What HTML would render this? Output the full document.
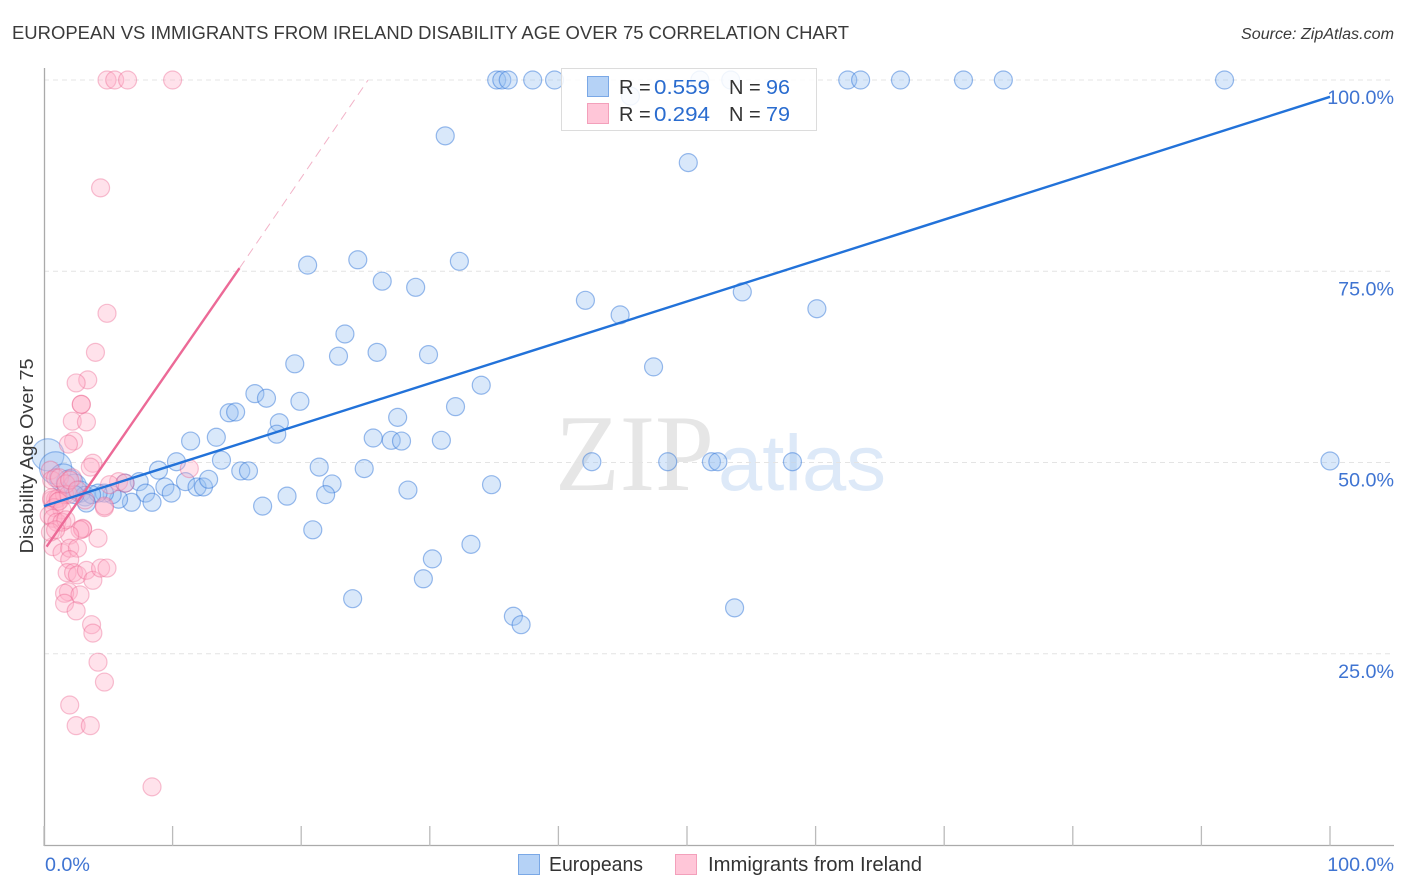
<!DOCTYPE html>
<html lang="en">
<head>
<meta charset="utf-8">
<title>European vs Immigrants from Ireland Disability Age Over 75 Correlation Chart</title>
<style>
html,body{margin:0;padding:0;background:#fff;}
svg{display:block;font-family:"Liberation Sans",sans-serif;}
</style>
</head>
<body>
<svg id="chart" width="1406" height="892" viewBox="0 0 1406 892" xmlns="http://www.w3.org/2000/svg">
  <text x="12" y="39" font-size="18.5" fill="#3a3a3a" textLength="837" lengthAdjust="spacingAndGlyphs">EUROPEAN VS IMMIGRANTS FROM IRELAND DISABILITY AGE OVER 75 CORRELATION CHART</text>
  <text x="1241" y="39" font-size="15.5" font-style="italic" fill="#3a3a3a" textLength="153" lengthAdjust="spacingAndGlyphs">Source: ZipAtlas.com</text>
  <g>
    <text x="555" y="490" font-family="'Liberation Serif',serif" font-size="109" fill="#e6e6e6" textLength="159" lengthAdjust="spacingAndGlyphs">ZIP</text>
    <text x="718" y="490" font-size="79" fill="#dde9f8" textLength="168" lengthAdjust="spacingAndGlyphs">atlas</text>
  </g>
  <g id="grid"></g>
  <g id="axes"></g>
  <g id="points-euro"></g>
  <g id="points-irish"></g>
  <g id="trends"></g>
  <g id="tick-labels"></g>
  <text transform="translate(33,456) rotate(-90)" text-anchor="middle" font-size="18" fill="#3a3a3a" textLength="195" lengthAdjust="spacingAndGlyphs">Disability Age Over 75</text>
  <g>
    <rect x="561.5" y="68.5" width="255" height="62" fill="#fff" fill-opacity="0.86" stroke="#dcdcdc"/>
    <rect x="587.5" y="76.5" width="21" height="20" fill="#b5d2f6" stroke="#7aa8e6"/>
    <rect x="587.5" y="103.5" width="21" height="20" fill="#ffc6d8" stroke="#f3a0bb"/>
    <text x="619" y="94" font-size="20" fill="#333">R =</text>
    <text x="654" y="94" font-size="20" fill="#2a6ccf" textLength="56" lengthAdjust="spacingAndGlyphs">0.559</text>
    <text x="729" y="94" font-size="20" fill="#333">N =</text>
    <text x="766" y="94" font-size="20" fill="#2a6ccf" textLength="24" lengthAdjust="spacingAndGlyphs">96</text>
    <text x="619" y="121" font-size="20" fill="#333">R =</text>
    <text x="654" y="121" font-size="20" fill="#2a6ccf" textLength="56" lengthAdjust="spacingAndGlyphs">0.294</text>
    <text x="729" y="121" font-size="20" fill="#333">N =</text>
    <text x="766" y="121" font-size="20" fill="#2a6ccf" textLength="24" lengthAdjust="spacingAndGlyphs">79</text>
  </g>
  <g>
    <rect x="518.5" y="854.5" width="21" height="20" fill="#b5d2f6" stroke="#7aa8e6"/>
    <text x="549" y="871" font-size="20" fill="#333" textLength="94" lengthAdjust="spacingAndGlyphs">Europeans</text>
    <rect x="675.5" y="854.5" width="21" height="20" fill="#ffc6d8" stroke="#f3a0bb"/>
    <text x="708" y="871" font-size="20" fill="#333" textLength="214" lengthAdjust="spacingAndGlyphs">Immigrants from Ireland</text>
  </g>
</svg>
<script>
const euroX = [35.2,35.6,36.1,38.0,39.7,51.0,53.4,62.5,63.5,66.6,71.5,74.6,91.8,45.6,31.2,50.1,20.5,24.4,32.3,26.3,28.9,42.1,54.3,44.8,60.1,23.4,22.9,25.9,29.9,19.5,47.4,34.0,16.4,17.3,19.9,32.0,14.4,14.9,27.5,18.3,18.1,13.4,11.4,25.6,27.0,27.8,30.9,42.6,48.5,51.9,52.4,58.2,100,13.8,10.3,8.9,15.3,15.9,21.4,24.9,7.4,6.3,11.0,9.4,11.9,12.4,12.8,22.4,21.9,18.9,28.3,34.8,7.9,9.9,17.0,8.4,6.8,5.8,5.3,4.7,4.2,3.7,3.3,2.4,20.9,33.2,30.2,29.5,24.0,36.5,37.1,53.7];
const euroY = [100,100,100,100,100,100,100,100,100,100,100,100,100,97.9,92.7,89.2,75.8,76.5,76.3,73.7,72.9,71.2,72.3,69.3,70.1,66.8,63.9,64.4,64.1,62.9,62.5,60.1,59.0,58.4,58.0,57.3,56.5,56.6,55.9,55.2,53.7,53.3,52.8,53.2,52.9,52.8,52.9,50.1,50.1,50.1,50.1,50.1,50.2,50.3,50.1,49.0,48.9,48.9,49.4,49.2,47.5,47.3,47.5,46.8,46.8,46.8,47.8,47.2,45.8,45.6,46.4,47.1,46.0,46.0,44.3,44.8,44.8,45.2,45.8,46.0,46.0,45.8,44.7,45.8,41.2,39.3,37.4,34.8,32.2,29.9,28.8,31.0];
const euroBigX = [0.3,0.9,1.5,2.0,2.4,2.8,3.2];
const euroBigY = [51.0,49.3,48.0,47.3,47.0,46.2,45.6];
const euroBigWeight = [3.2,3.2,2.4,2.2,1.6,1.4,1.2];
const irishX = [4.9,5.5,6.5,10.0,4.4,4.9,4.0,3.4,2.5,2.9,2.9,2.2,3.3,2.3,1.9,3.8,3.6,11.3,5.8,6.3,5.1,4.7,3.0,4.2,3.0,2.8,2.0,0.7,1.4,2.0,2.6,2.0,1.8,2.3,2.6,3.3,3.8,4.4,4.9,1.9,1.6,2.8,1.6,2.5,3.7,3.8,4.2,4.7,2.0,2.5,3.6,8.4,0.5,0.6,0.9,1.2,0.6,0.9,1.1,1.2,1.6,1.9,2.2,1.7,0.6,0.8,1.1,1.4,0.4,0.7,1.0,1.4,1.7,0.5,0.9,2.0,2.6,3.2,4.7];
const irishY = [100,100,100,100,85.9,69.5,64.4,60.8,60.4,57.6,57.6,55.4,55.3,52.8,52.4,49.9,49.4,49.2,47.5,47.3,47.1,44.1,41.4,40.1,41.3,41.2,40.5,39.0,38.2,38.8,38.8,37.3,35.6,35.6,35.3,35.9,34.6,36.2,36.2,33.1,32.9,32.7,31.6,30.6,28.8,27.7,23.9,21.3,18.3,15.6,15.6,7.6,49.0,47.7,48.0,48.0,45.1,45.2,45.3,45.0,45.8,45.8,48.0,47.2,45.4,44.1,44.9,43.8,43.1,42.7,42.2,42.2,42.5,40.9,41.2,47.7,46.4,45.1,44.3];
const euroTrendX = [0,100];
const euroTrendY = [44.3,97.8];
const irishSolidX = [0.2,15.2];
const irishSolidY = [39.0,75.4];
const irishDashX = [15.2,25.2];
const irishDashY = [75.4,100];
const gridValues = [25,50,75,100];
const yTickLabels = ["25.0%","50.0%","75.0%","100.0%"];
const xTicks = [0,10,20,30,40,50,60,70,80,90,100];

const NS = 'http://www.w3.org/2000/svg';
function xScale(v){ return 44 + v * 12.86; }
function yScale(v){ return 845 - v * 7.65; }
function bubbleR(w){ return 9 * Math.sqrt(w); }
function make(tag, parentId, attrs){
  const el = document.createElementNS(NS, tag);
  for (const k in attrs) el.setAttribute(k, attrs[k]);
  document.getElementById(parentId).appendChild(el);
  return el;
}

gridValues.forEach(function(v){
  const el = make('line','grid',{x1:44,x2:1394,y1:yScale(v),y2:yScale(v),stroke:'#e4e4e4','stroke-width':1,'stroke-dasharray':'5 4'});
  
  
});

const yAxis = make('line','axes',{x1:44.5,x2:44.5,y1:68,y2:846,stroke:'#aaa','stroke-width':1.3});


const xAxis = make('line','axes',{x1:44,x2:1394,y1:845.5,y2:845.5,stroke:'#aaa','stroke-width':1.3});


xTicks.forEach(function(v){
  const el = make('line','axes',{x1:xScale(v),x2:xScale(v),y1:826,y2:846,stroke:'#bbb','stroke-width':1.3});
  
  
});

function drawBubble(parent, x, y, w, fill, stroke){
  const el = make('circle',parent,{cx:xScale(x),cy:yScale(y),r:bubbleR(w),fill:fill,stroke:stroke,'stroke-width':1.2});
  return el;
}
euroBigX.forEach(function(v,i){
  const el = drawBubble('points-euro', v, euroBigY[i], euroBigWeight[i], 'rgba(150,190,240,0.36)', 'rgba(45,115,215,0.42)');
  
  
});
euroX.forEach(function(v,i){
  const el = drawBubble('points-euro', v, euroY[i], 1, 'rgba(150,190,240,0.36)', 'rgba(45,115,215,0.48)');
  
  
});
irishX.forEach(function(v,i){
  const el = drawBubble('points-irish', v, irishY[i], 1, 'rgba(255,175,200,0.36)', 'rgba(235,95,140,0.38)');
  
  
});

const dashTrend = make('line','trends',{x1:xScale(irishDashX[0]),y1:yScale(irishDashY[0]),x2:xScale(irishDashX[1]),y2:yScale(irishDashY[1]),stroke:'#f2b3c8','stroke-width':1,'stroke-dasharray':'9 6'});


const irishTrend = make('line','trends',{x1:xScale(irishSolidX[0]),y1:yScale(irishSolidY[0]),x2:xScale(irishSolidX[1]),y2:yScale(irishSolidY[1]),stroke:'#ec6a97','stroke-width':2.4});


const euroTrend = make('line','trends',{x1:xScale(euroTrendX[0]),y1:yScale(euroTrendY[0]),x2:xScale(euroTrendX[1]),y2:yScale(euroTrendY[1]),stroke:'#2272d9','stroke-width':2.4});



gridValues.forEach(function(v,i){
  const el = make('text','tick-labels',{x:1394,y:yScale(v)+24,'text-anchor':'end','font-size':19.7,fill:'#3f74d2'});
  el.textContent = yTickLabels[i];
  
  
});
const xMin = make('text','tick-labels',{x:45,y:871,'font-size':19.7,fill:'#3f74d2'});
xMin.textContent = '0.0%';


const xMax = make('text','tick-labels',{x:1394,y:871,'text-anchor':'end','font-size':19.7,fill:'#3f74d2'});
xMax.textContent = '100.0%';


</script>
</body>
</html>
